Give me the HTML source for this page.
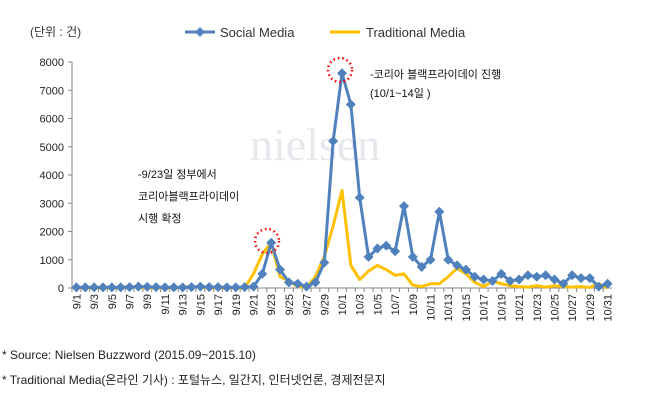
<!DOCTYPE html>
<html><head><meta charset="utf-8"><style>
body{margin:0;background:#fff;font-family:"Liberation Sans","Noto Sans CJK KR",sans-serif;}
</style></head><body>
<svg id="c" width="648" height="400" xmlns="http://www.w3.org/2000/svg" font-family="Liberation Sans, Noto Sans CJK KR, sans-serif">
<text x="30" y="36" font-size="12" fill="#333">(단위 : 건)</text>
<g>
<line x1="185" y1="32" x2="215" y2="32" stroke="#4F81BD" stroke-width="3"/>
<path d="M200 27 L205 32 L200 37 L195 32Z" fill="#4F81BD"/>
<text x="220" y="37" font-size="13" fill="#333">Social Media</text>
<line x1="330" y1="32" x2="360" y2="32" stroke="#FFC000" stroke-width="3"/>
<text x="366" y="37" font-size="13" fill="#333">Traditional Media</text>
</g>
<text x="250" y="160" font-size="46" fill="#e6e8ee" font-family="Liberation Serif, serif">nielsen</text>
<g id="axes"></g>
<g id="series"></g>
<g font-size="11" fill="#111">
<text x="138" y="178">-9/23일 정부에서</text>
<text x="138" y="200">코리아블랙프라이데이</text>
<text x="138" y="222">시행 확정</text>
<text x="370" y="78">-코리아 블랙프라이데이 진행</text>
<text x="370" y="97">(10/1~14일 )</text>
<circle cx="267" cy="241" r="12" fill="none" stroke="#f00" stroke-width="2.5" stroke-dasharray="1.5 3"/>
<circle cx="340" cy="70" r="12" fill="none" stroke="#f00" stroke-width="2.5" stroke-dasharray="1.5 3"/>
</g>
<text x="2" y="359" font-size="12" fill="#222">* Source: Nielsen Buzzword (2015.09~2015.10)</text>
<text x="2" y="384" font-size="12" fill="#222">* Traditional Media(온라인 기사) : 포털뉴스, 일간지, 인터넷언론, 경제전문지</text>
</svg>
<script>
const categories=[];
for(let d=1;d<=30;d++)categories.push('9/'+d);
for(let d=1;d<=31;d++)categories.push('10/'+d);
const socialValues=[20,20,20,20,20,20,30,50,40,30,20,20,20,30,50,30,30,20,20,30,50,500,1600,650,200,150,50,200,900,5200,7600,6500,3200,1100,1400,1500,1300,2900,1100,750,1000,2700,1000,800,650,400,300,250,500,250,300,450,400,450,300,150,450,350,350,50,150];
const traditionalValues=[0,0,0,0,0,0,60,20,0,0,0,0,20,60,20,0,0,0,0,0,500,1200,1600,400,250,50,20,400,1100,2200,3450,800,300,600,800,650,450,500,100,50,150,150,400,700,500,200,50,250,150,80,50,30,80,30,80,50,30,50,20,150,0];
const yTicks=[0,1000,2000,3000,4000,5000,6000,7000,8000];
const NS='http://www.w3.org/2000/svg';
const X0=72,X1=612,Y0=288,Y1=62,YMAX=8000;
const step=(X1-X0)/categories.length;
const x=i=>X0+step*(i+0.5);
const y=v=>Y0-(v/YMAX)*(Y0-Y1);
function mk(tag,attrs,parent){const e=document.createElementNS(NS,tag);for(const k in attrs)e.setAttribute(k,attrs[k]);parent.appendChild(e);return e;}
const ax=document.getElementById('axes');
mk('line',{x1:X0,y1:Y1,x2:X0,y2:Y0,stroke:'#868686'},ax);
mk('line',{x1:X0,y1:Y0,x2:X1,y2:Y0,stroke:'#868686'},ax);
yTicks.forEach(t=>{
 mk('line',{x1:X0-4,y1:y(t),x2:X0,y2:y(t),stroke:'#868686'},ax);
 const tx=mk('text',{x:X0-8,y:y(t)+4,'text-anchor':'end','font-size':11,fill:'#222'},ax);
 tx.textContent=t;
 
 
});
categories.forEach((c,i)=>{
 mk('line',{x1:X0+step*i,y1:Y0,x2:X0+step*i,y2:Y0+4,stroke:'#868686'},ax);
 if(i%2===0){
  const tx=mk('text',{transform:`translate(${x(i)+4},${Y0+6}) rotate(-90)`,'text-anchor':'end','font-size':11,fill:'#222'},ax);
  tx.textContent=c;
  
  
 }
});
const sg=document.getElementById('series');
const tl=mk('polyline',{points:traditionalValues.map((v,i)=>x(i)+','+y(v)).join(' '),fill:'none',stroke:'#FFC000','stroke-width':3,'stroke-linejoin':'round'},sg);


const sl=mk('polyline',{points:socialValues.map((v,i)=>x(i)+','+y(v)).join(' '),fill:'none',stroke:'#4F81BD','stroke-width':3,'stroke-linejoin':'round'},sg);


socialValues.forEach((v,i)=>{
 const cx=x(i),cy=y(v);
 const m=mk('path',{d:`M${cx} ${cy-5}L${cx+5} ${cy}L${cx} ${cy+5}L${cx-5} ${cy}Z`,fill:'#4F81BD'},sg);
 
 
});
</script>
</body></html>
